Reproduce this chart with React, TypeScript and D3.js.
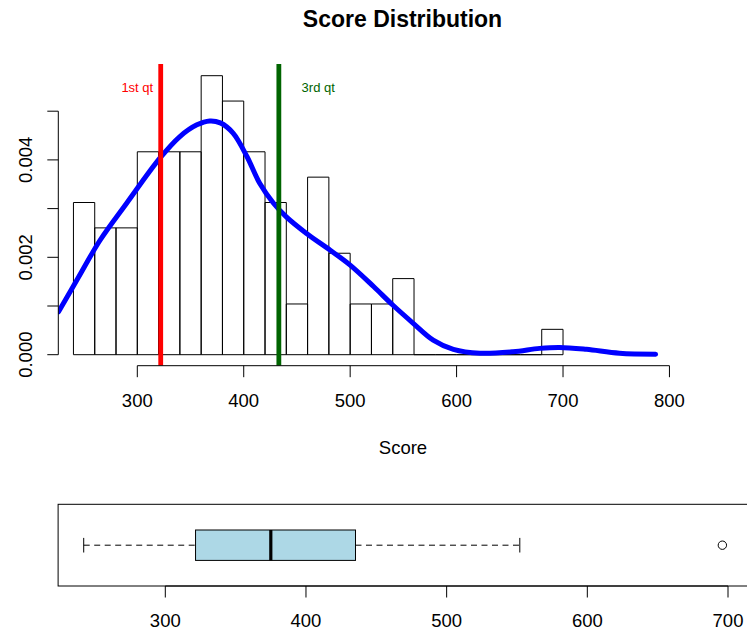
import React from "react";
import * as d3 from "d3";

// ---- data ----
const binEdges = [240, 260, 280, 300, 320, 340, 360, 380, 400, 420, 440, 460, 480, 500, 520, 540, 560, 580, 600, 620, 640, 660, 680, 700];
const binCounts = [6, 5, 5, 8, 8, 8, 11, 10, 8, 6, 2, 7, 4, 2, 2, 3, 0, 0, 0, 0, 0, 0, 1];

const kdeX = [226, 245, 265, 290, 321, 340, 356, 368, 378, 390, 403, 415, 428, 440, 459, 481, 500, 522, 540, 559, 578, 597, 622, 653, 678, 697, 722, 753, 787];
const kdeY = [0.00088, 0.0016, 0.00235, 0.00311, 0.00403, 0.00448, 0.00472, 0.0048, 0.00476, 0.00455, 0.00407, 0.00352, 0.00311, 0.00283, 0.00249, 0.00215, 0.00184, 0.0014, 0.00102, 0.00065, 0.0003, 0.00011, 0.00003, 0.00006, 0.00013, 0.00015, 0.00011, 0.00003, 0.00001];

const quartileLines = [322, 433];
const quartileLabels = ["1st qt", "3rd qt"];
const quartileLabelX = [300, 470];
const quartileLabelY = 0.0055;

const xTicksTop = [300, 400, 500, 600, 700, 800];
const yTicks = [0, 0.001, 0.002, 0.003, 0.004, 0.005];
const yTickLabels = ["0.000", "", "0.002", "", "0.004", ""];

// boxplot stats: lower whisker, Q1, median, Q3, upper whisker
const boxStats = [242, 321.5, 375, 435.2, 552];
const boxOutliers = [696];
const xTicksBox = [300, 400, 500, 600, 700];

const FONT = "'Liberation Sans', Arial, Helvetica, sans-serif";

export default function App() {
  const W = 747, H = 634;
  const n = d3.sum(binCounts);
  const bw = binEdges[1] - binEdges[0];

  // top panel
  const plotL = 58.3, plotR = 747.7, plotT = 64, plotB = 365.7;
  const x = d3.scaleLinear().domain([300, 800]).range([137.3, 669.45]);
  const y = d3.scaleLinear().domain([0, 0.005]).range([354.7, 111.2]);

  const line = d3
    .line<number>()
    .x((_, i) => x(kdeX[i]))
    .y((d) => y(d))
    .curve(d3.curveCatmullRom.alpha(0.5));

  // box panel
  const xb = d3.scaleLinear().domain([300, 700]).range([165.3, 728]);
  const frameL = xb(223.8), frameR = xb(714.2), frameT = 504.3, frameB = 586;
  const cy = 545.2, halfBox = 15.2, halfCap = 7.3;
  const [wLo, q1, med, q3, wHi] = boxStats;

  return (
    <svg width={W} height={H} style={{ position: "absolute", left: 0, top: 0, background: "#fff" }} fontFamily={FONT}>
      <defs>
        <clipPath id="plotclip">
          <rect x={plotL} y={plotT} width={plotR - plotL} height={plotB - plotT} />
        </clipPath>
      </defs>
      <rect x={0} y={0} width={W} height={H} fill="#fff" />

      {/* title */}
      <text x={402.5} y={26.5} textAnchor="middle" fontSize={23} fontWeight="bold">Score Distribution</text>

      {/* histogram */}
      {binCounts.map((c, i) => {
        const x0 = x(binEdges[i]), x1 = x(binEdges[i + 1]);
        const y0 = y(0), y1 = y(c / (n * bw));
        return (
          <path key={i} d={`M${x0},${y0}V${y1}H${x1}V${y0}Z`} fill="none" stroke="#000" strokeWidth={1} />
        );
      })}

      {/* density curve */}
      <g clipPath="url(#plotclip)">
        <path d={line(kdeY) || ""} fill="none" stroke="#0000ff" strokeWidth={5} strokeLinejoin="round" strokeLinecap="round" />
        {quartileLines.map((q, i) => (
          <line key={i} x1={x(q)} x2={x(q)} y1={plotT} y2={plotB} stroke={i === 0 ? "#ff0000" : "#006400"} strokeWidth={4.8} />
        ))}
      </g>
      {quartileLabels.map((t, i) => (
        <text key={i} x={x(quartileLabelX[i])} y={y(quartileLabelY)} dy="0.36em" textAnchor="middle" fontSize={13} fill={i === 0 ? "#ff0000" : "#006400"}>{t}</text>
      ))}

      {/* x axis top */}
      <line x1={x(xTicksTop[0])} x2={x(xTicksTop[xTicksTop.length - 1])} y1={plotB} y2={plotB} stroke="#000" />
      {xTicksTop.map((t) => (
        <g key={t}>
          <line x1={x(t)} x2={x(t)} y1={plotB} y2={plotB + 11.5} stroke="#000" />
          <text x={x(t)} y={400} dy="0.36em" textAnchor="middle" fontSize={18.5}>{t}</text>
        </g>
      ))}
      <text x={403} y={447} dy="0.36em" textAnchor="middle" fontSize={18.5}>Score</text>

      {/* y axis */}
      <line x1={plotL} x2={plotL} y1={y(yTicks[0])} y2={y(yTicks[yTicks.length - 1])} stroke="#000" />
      {yTicks.map((t, i) => (
        <g key={i}>
          <line x1={plotL - 11} x2={plotL} y1={y(t)} y2={y(t)} stroke="#000" />
          {yTickLabels[i] && (
            <text transform={`translate(25.5,${y(t)}) rotate(-90)`} dy="0.36em" textAnchor="middle" fontSize={18.5}>{yTickLabels[i]}</text>
          )}
        </g>
      ))}

      {/* boxplot */}
      <rect x={frameL} y={frameT} width={frameR - frameL} height={frameB - frameT} fill="none" stroke="#000" />
      <line x1={xb(wLo)} x2={xb(q1)} y1={cy} y2={cy} stroke="#000" strokeDasharray="6,4.5" />
      <line x1={xb(q3)} x2={xb(wHi)} y1={cy} y2={cy} stroke="#000" strokeDasharray="6,4.5" />
      <line x1={xb(wLo)} x2={xb(wLo)} y1={cy - halfCap} y2={cy + halfCap} stroke="#000" />
      <line x1={xb(wHi)} x2={xb(wHi)} y1={cy - halfCap} y2={cy + halfCap} stroke="#000" />
      <rect x={xb(q1)} y={cy - halfBox} width={xb(q3) - xb(q1)} height={2 * halfBox} fill="#add8e6" stroke="#000" />
      <line x1={xb(med)} x2={xb(med)} y1={cy - halfBox} y2={cy + halfBox} stroke="#000" strokeWidth={3.2} />
      {boxOutliers.map((o, i) => (
        <circle key={i} cx={xb(o)} cy={cy} r={4.2} fill="none" stroke="#000" />
      ))}

      {/* box axis */}
      <line x1={xb(xTicksBox[0])} x2={xb(xTicksBox[xTicksBox.length - 1])} y1={frameB} y2={frameB} stroke="#000" />
      {xTicksBox.map((t) => (
        <g key={t}>
          <line x1={xb(t)} x2={xb(t)} y1={frameB} y2={frameB + 11.5} stroke="#000" />
          <text x={xb(t)} y={620} dy="0.36em" textAnchor="middle" fontSize={18.5}>{t}</text>
        </g>
      ))}
    </svg>
  );
}
